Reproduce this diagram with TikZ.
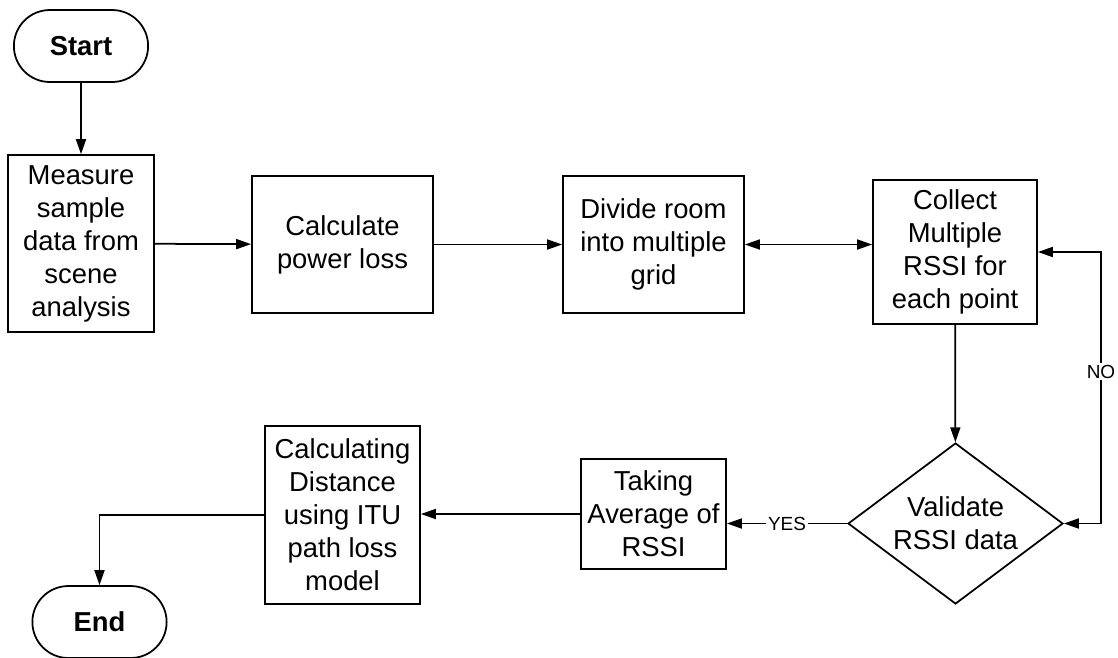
\documentclass[tikz,border=0pt]{standalone}
\usepackage{fontspec}
\setmainfont{Liberation Sans}
\usepackage{tikz}
\usetikzlibrary{shapes.geometric,shapes.misc,arrows.meta}

\begin{document}
\begin{tikzpicture}[x=0.02cm, y=-0.02cm,
  every node/.style={font=\fontsize{15.6}{18.8}\selectfont},
  term/.style={rounded rectangle, draw, line width=1pt, minimum width=2.92cm, minimum height=1.44cm, font=\fontsize{15.6}{18.8}\selectfont\bfseries},
  box/.style={rectangle, draw, line width=1pt, align=center, inner sep=0pt},
  decide/.style={diamond, draw, line width=1pt, align=center, aspect=1.335, minimum width=4.3cm, minimum height=3.22cm, inner sep=0pt},
  flow/.style={line width=1pt, -{Triangle[length=0.3cm, width=0.2cm]}},
  both/.style={line width=1pt, {Triangle[length=0.3cm, width=0.2cm]}-{Triangle[length=0.3cm, width=0.2cm]}},
  tag/.style={fill=white, inner sep=1pt, font=\fontsize{10.8}{12}\selectfont}]

\useasboundingbox (0,0) rectangle (1118,657);

\node[term] (start) at (81,46) {Start};
\node[box, minimum width=2.92cm, minimum height=3.54cm] (measure) at (81,243.5) {Measure\\sample\\data from\\scene\\analysis};
\node[box, minimum width=3.62cm, minimum height=2.74cm] (power) at (342.5,244.5) {Calculate\\power loss};
\node[box, minimum width=3.62cm, minimum height=2.74cm] (divide) at (653.5,244.5) {Divide room\\into multiple\\grid};
\node[box, minimum width=3.28cm, minimum height=2.88cm] (collect) at (955,252) {Collect\\Multiple\\RSSI for\\each point};
\node[decide] (valid) at (955.5,523.5) {Validate\\RSSI data};
\node[box, minimum width=2.9cm, minimum height=2.2cm] (average) at (653.5,514) {Taking\\Average of\\RSSI};
\node[box, minimum width=3.1cm, minimum height=3.56cm] (distance) at (342.5,515) {Calculating\\Distance\\using ITU\\path loss\\model};
\node[term] (end) at (99.5,622) {End};
\coordinate (noturn) at (1101,400);

\draw[flow] (start) -- (measure);
\draw[flow] (measure) -- (power);
\draw[flow] (power) -- (divide);
\draw[both] (divide.east) -- (divide.east -| collect.west);
\draw[flow] (collect) -- (valid);
\draw[both] (valid.east) -- (valid.east -| noturn) -- (collect.east -| noturn) node[pos=0.56, tag] {NO} -- (collect.east);
\draw[flow] (valid.west) -- (valid.west -| average.east) node[midway, tag] {YES};
\draw[flow] (average.west) -- (average.west -| distance.east);
\draw[flow] (distance.west) -| (end.north);
\end{tikzpicture}
\end{document}
